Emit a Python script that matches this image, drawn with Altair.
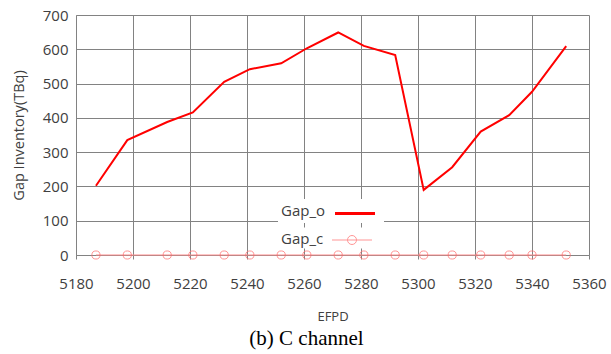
import altair as alt
import pandas as pd

# ---- data ----
efpd = [5187, 5198, 5212, 5221, 5232, 5241, 5252, 5261, 5272, 5281,
        5292, 5302, 5312, 5322, 5332, 5340, 5352]
gap_o = [202, 335, 388, 416, 505, 542, 559, 603, 649, 610,
         583, 190, 256, 360, 408, 476, 609]
gap_c = [0, 0, 0, 0, 0, 0, 0, 0, 0, 0,
         0, 0, 0, 0, 0, 0, 0]
x_ticks = [5180, 5200, 5220, 5240, 5260, 5280, 5300, 5320, 5340, 5360]
y_ticks = [0, 100, 200, 300, 400, 500, 600, 700]
series_o = "Gap_o"
series_c = "Gap_c"

df_o = pd.DataFrame({"EFPD": efpd, "value": gap_o, "series": series_o})
df_c = pd.DataFrame({"EFPD": efpd, "value": gap_c, "series": series_c})

FONT = "Open Sans"
TXT = "#404040"
GRID = "#828282"

x = alt.X(
    "EFPD:Q",
    scale=alt.Scale(domain=[5180, 5360], nice=False, zero=False),
    axis=alt.Axis(
        values=x_ticks, title="EFPD", grid=True, gridColor=GRID, gridWidth=1,
        domainColor=GRID, tickColor=GRID, tickSize=4, labelPadding=17,
        labelFont=FONT, labelFontSize=15, labelColor=TXT, format="d",
        titleFont=FONT, titleFontSize=13, titleFontWeight="normal", titleColor=TXT,
        titleY=61, titleBaseline="middle", labelFlush=False,
    ),
)
y = alt.Y(
    "value:Q",
    scale=alt.Scale(domain=[0, 700], nice=False),
    axis=alt.Axis(
        values=y_ticks, title="Gap Inventory(TBq)", grid=True, gridColor=GRID,
        gridWidth=1, domainColor=GRID, ticks=False, labelPadding=8,
        labelFont=FONT, labelFontSize=15, labelColor=TXT,
        titleFont=FONT, titleFontSize=14.5, titleFontWeight="normal", titleColor=TXT,
        titleAngle=270, titleX=-57, titleY=120, titleAlign="center",
        titleBaseline="middle", labelFlush=False,
    ),
)

legend_common = dict(
    orient="none", titleOrient="left", titleAnchor="middle",
    titleFont=FONT, titleFontSize=15, titleFontWeight="normal",
    titleColor=TXT, titlePadding=9, titleLimit=200,
    labelExpr="''", labelOffset=0, fillColor="white",
    symbolSize=400, symbolOffset=8.5,
)

line_c = alt.Chart(df_c).mark_line(strokeWidth=1, color="#ff8a8a").encode(x=x, y=y)

pts_c = alt.Chart(df_c).mark_point(
    shape="circle", filled=False, size=66, strokeWidth=1
).encode(
    x=x, y=y,
    color=alt.Color(
        "series:N",
        scale=alt.Scale(domain=[series_c], range=["#ff6a6a"]),
        legend=alt.Legend(
            title=series_c, legendX=203, legendY=212.5, padding=2,
            symbolType="M-2,0H2M0.45,0A0.45,0.45,0,1,1,-0.45,0A0.45,0.45,0,1,1,0.45,0",
            symbolStrokeWidth=1,
            **legend_common,
        ),
    ),
)

line_o = alt.Chart(df_o).mark_line(strokeWidth=2).encode(
    x=x, y=y,
    color=alt.Color(
        "series:N",
        scale=alt.Scale(domain=[series_o], range=["#ff0000"]),
        legend=alt.Legend(
            title=series_o, legendX=202, legendY=184, padding=3,
            symbolType="M-2,0H2", symbolStrokeWidth=3,
            **legend_common,
        ),
    ),
)

chart = (
    alt.layer(line_c, pts_c, line_o)
    .resolve_scale(color="independent")
    .properties(
        width=513,
        height=240,
        autosize=alt.AutoSizeParams(type="none"),
        padding={"left": 76, "top": 15, "right": 22, "bottom": 99},
        background="white",
        title=alt.Title(
            "(b) C channel", orient="bottom", anchor="middle",
            font="Liberation Serif", fontSize=21, fontWeight="normal",
            color="black", dx=-26, offset=5,
        ),
    )
    .configure_view(strokeWidth=0)
)

chart.save("out.html", embed_options={"renderer": "svg", "actions": False})
